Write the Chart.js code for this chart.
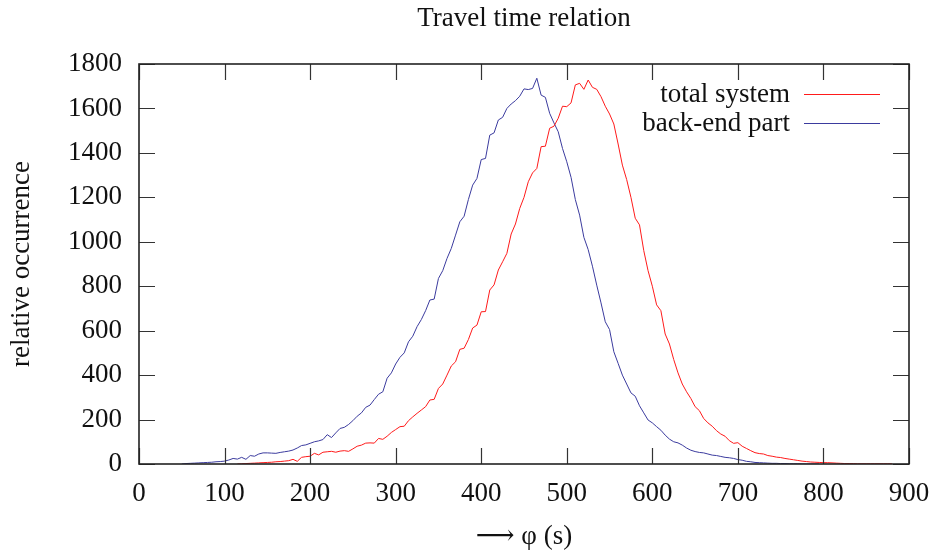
<!DOCTYPE html>
<html>
<head>
<meta charset="utf-8">
<script src="https://cdn.jsdelivr.net/npm/chart.js@4.4.1/dist/chart.umd.min.js"></script>
<style>
  html, body { margin: 0; padding: 0; background: #fff; }
  #wrap { width: 936px; height: 553px; }
</style>
</head>
<body>
<div id="wrap"><canvas id="myChart"></canvas></div>
<script>
// travel time bins (s)
var phi = [
  40, 45, 50, 55, 60, 65, 70, 75, 80, 85,
  90, 95, 100, 105, 110, 115, 120, 125, 130, 135,
  140, 145, 150, 155, 160, 165, 170, 175, 180, 185,
  190, 195, 200, 205, 210, 215, 220, 225, 230, 235,
  240, 245, 250, 255, 260, 265, 270, 275, 280, 285,
  290, 295, 300, 305, 310, 315, 320, 325, 330, 335,
  340, 345, 350, 355, 360, 365, 370, 375, 380, 385,
  390, 395, 400, 405, 410, 415, 420, 425, 430, 435,
  440, 445, 450, 455, 460, 465, 470, 475, 480, 485,
  490, 495, 500, 505, 510, 515, 520, 525, 530, 535,
  540, 545, 550, 555, 560, 565, 570, 575, 580, 585,
  590, 595, 600, 605, 610, 615, 620, 625, 630, 635,
  640, 645, 650, 655, 660, 665, 670, 675, 680, 685,
  690, 695, 700, 705, 710, 715, 720, 725, 730, 735,
  740, 745, 750, 755, 760, 765, 770, 775, 780, 785,
  790, 795, 800, 805, 810, 815, 820, 825, 830, 835,
  840, 845, 850, 855, 860, 865, 870, 875, 880
];

var totalSystem = [
  null, null, null, null, null, null, null, null, null, null,
  null, null, null, null, null, 0, 1, 2, 3, 4,
  5, 6, 7, 8, 10, 11, 13, 15, 21, 12,
  30, 33, 35, 48, 41, 53, 55, 57, 53, 58,
  60, 57, 68, 80, 85, 94, 95, 94, 115, 111,
  125, 142, 155, 168, 170, 195, 212, 228, 243, 258,
  288, 291, 340, 360, 400, 441, 460, 516, 521, 560,
  612, 625, 685, 686, 783, 806, 873, 910, 948, 1035,
  1080, 1150, 1200, 1270, 1310, 1330, 1428, 1430, 1511, 1520,
  1556, 1610, 1608, 1625, 1706, 1713, 1686, 1728, 1695, 1686,
  1653, 1610, 1575, 1530, 1440, 1345, 1280, 1200, 1106, 1076,
  960, 870, 800, 716, 690, 585, 540, 470, 410, 360,
  325, 295, 258, 240, 205, 185, 170, 150, 135, 125,
  105, 93, 96, 80, 70, 60, 51, 47, 45, 38,
  35, 31, 29, 25, 22, 19, 16, 13, 11, 9,
  8, 7, 6, 6, 5, 4, 3, 2, 2, 2,
  1, 1, 1, 1, 1, 1, 1, 1, 1
];

var backEnd = [
  null, null, 0, 2, 3, 4, 5, 6, 7, 8,
  10, 11, 13, 18, 25, 22, 30, 21, 38, 35,
  45, 50, 50, 49, 48, 52, 55, 58, 63, 72,
  83, 86, 93, 100, 104, 110, 132, 119, 140, 160,
  165, 178, 195, 215, 230, 255, 265, 290, 314, 325,
  386, 410, 450, 480, 500, 550, 575, 618, 650, 690,
  738, 742, 835, 870, 925, 970, 1030, 1090, 1115, 1190,
  1255, 1285, 1370, 1375, 1480, 1490, 1548, 1560, 1600, 1620,
  1635, 1655, 1688, 1685, 1690, 1736, 1660, 1650, 1578, 1535,
  1495, 1420, 1360, 1290, 1190, 1120, 1020, 965, 890, 805,
  725, 640, 605, 505, 453, 400, 360, 320, 305, 262,
  230, 198, 185, 168, 152, 130, 112, 100, 95, 85,
  72, 62, 56, 52, 50, 45, 40, 38, 34, 30,
  28, 25, 20, 17, 12, 10, 7, 6, 5, 4,
  3, 3, 2, 2, 1, 1, 1, 0, 0, 0,
  0, 0, null, null, null, null, null, null, null, null,
  null, null, null, null, null, null, null, null, null
];

var seriesNames = ['total system', 'back-end part'];
var xTicks = [0, 100, 200, 300, 400, 500, 600, 700, 800, 900];
var yTicks = [0, 200, 400, 600, 800, 1000, 1200, 1400, 1600, 1800];

var FONT = "'Liberation Serif', 'DejaVu Serif', serif";
var FSIZE = 27;
var RED = '#ff1a1a';
var BLUE = '#3b3b9e';
var COLORS = [RED, BLUE];

function points(values) {
    return phi.map(function (x, i) { return { x: x, y: values[i] }; });
}

// frame with ticks pointing inward on all four sides, gnuplot style
var frameTicks = {
    id: 'frameTicks',
    afterDatasetsDraw: function (chart) {
        var ctx = chart.ctx;
        var a = chart.chartArea;
        var xs = chart.scales.x, ys = chart.scales.y;
        var len = 16;
        ctx.save();
        ctx.strokeStyle = '#333';
        ctx.lineWidth = 1.2;
        ctx.beginPath();
        xTicks.forEach(function (v) {
            var px = Math.round(xs.getPixelForValue(v)) + 0.5;
            ctx.moveTo(px, a.bottom); ctx.lineTo(px, a.bottom - len);
            ctx.moveTo(px, a.top); ctx.lineTo(px, a.top + len);
        });
        yTicks.forEach(function (v) {
            var py = Math.round(ys.getPixelForValue(v)) + 0.5;
            ctx.moveTo(a.left, py); ctx.lineTo(a.left + len, py);
            ctx.moveTo(a.right, py); ctx.lineTo(a.right - len, py);
        });
        ctx.stroke();
        ctx.strokeStyle = '#222';
        ctx.lineWidth = 1.6;
        ctx.strokeRect(a.left, a.top, a.right - a.left, a.bottom - a.top);
        ctx.restore();
    }
};

// legend inside the plot, text right-aligned and line sample after it
var innerLegend = {
    id: 'innerLegend',
    afterDraw: function (chart) {
        var ctx = chart.ctx;
        var a = chart.chartArea;
        ctx.save();
        ctx.font = FSIZE + 'px ' + FONT;
        ctx.textAlign = 'right';
        ctx.textBaseline = 'middle';
        seriesNames.forEach(function (name, i) {
            var y = a.top + 31 + i * 29;
            ctx.fillStyle = '#111';
            ctx.fillText(name, a.right - 119, y);
        });
        seriesNames.forEach(function (name, i) {
            var ly = Math.round(a.top + 30 + i * 29) + 0.5;
            ctx.strokeStyle = COLORS[i];
            ctx.lineWidth = 1;
            ctx.beginPath();
            ctx.moveTo(a.right - 105, ly);
            ctx.lineTo(a.right - 29, ly);
            ctx.stroke();
        });
        ctx.restore();
    }
};

var ctx = document.getElementById('myChart');
var chart = new Chart(ctx, {
    type: 'line',
    data: {
        datasets: [{
            label: seriesNames[0],
            data: points(totalSystem),
            borderColor: RED,
            borderWidth: 1,
            pointRadius: 0,
            tension: 0,
            fill: false
        }, {
            label: seriesNames[1],
            data: points(backEnd),
            borderColor: BLUE,
            borderWidth: 1,
            pointRadius: 0,
            tension: 0,
            fill: false
        }]
    },
    options: {
        responsive: true,
        maintainAspectRatio: false,
        animation: false,
        layout: { padding: { top: 0, right: 27, bottom: 0, left: 0 } },
        plugins: {
            legend: { display: false },
            tooltip: { enabled: false },
            title: {
                display: true,
                text: 'Travel time relation',
                fullSize: false,
                color: '#111',
                font: { family: FONT, size: FSIZE, weight: 'normal' },
                padding: { top: 3, bottom: 28.6 }
            }
        },
        scales: {
            x: {
                type: 'linear',
                min: 0,
                max: 900,
                afterFit: function (s) {
                    s.height = 89;
                    s.paddingLeft = 0;
                    s.paddingRight = 0;
                },
                afterBuildTicks: function (s) {
                    s.ticks = xTicks.map(function (v) { return { value: v }; });
                },
                grid: { display: false, drawTicks: false },
                border: { display: false },
                ticks: {
                    padding: 14,
                    color: '#111',
                    font: { family: FONT, size: FSIZE },
                    maxRotation: 0,
                    autoSkip: false,
                    callback: function (v) { return String(v); }
                },
                title: {
                    display: true,
                    text: '\u27F6 \u03C6 (s)',
                    color: '#111',
                    font: { family: FONT, size: FSIZE },
                    padding: { top: 0, bottom: 0 }
                }
            },
            y: {
                min: 0,
                max: 1800,
                afterFit: function (s) {
                    s.width = 139;
                    s.paddingTop = 0;
                    s.paddingBottom = 0;
                },
                afterBuildTicks: function (s) {
                    s.ticks = yTicks.map(function (v) { return { value: v }; });
                },
                grid: { display: false, drawTicks: false },
                border: { display: false },
                ticks: {
                    padding: 17,
                    color: '#111',
                    font: { family: FONT, size: FSIZE },
                    autoSkip: false,
                    callback: function (v) { return String(v); }
                },
                title: {
                    display: true,
                    text: 'relative occurrence',
                    color: '#111',
                    font: { family: FONT, size: FSIZE },
                    padding: { top: 6, bottom: 0 }
                }
            }
        }
    },
    plugins: [frameTicks, innerLegend]
});
</script>
</body>
</html>
